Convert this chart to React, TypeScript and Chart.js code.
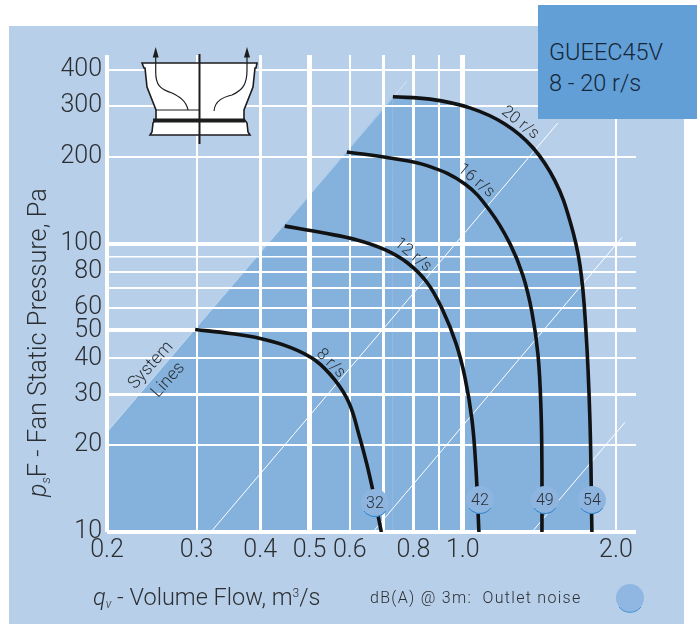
import React, { useEffect, useRef } from "react";
import { Chart, registerables } from "chart.js";

Chart.register(...registerables);

// ---- data (q = m3/s, p = Pa) ----
const curve8q = [0.298, 0.349, 0.4, 0.458, 0.513, 0.561, 0.598, 0.625, 0.648, 0.669, 0.692];
const curve8p = [50.4, 48.8, 46.9, 43.7, 39.4, 33.6, 28, 21.8, 17.2, 13.4, 10];
const curve12q = [0.447, 0.531, 0.62, 0.703, 0.777, 0.851, 0.914, 0.97, 1.01, 1.043, 1.062, 1.076];
const curve12p = [115, 109, 103, 95.3, 86, 73.3, 58.6, 45.1, 34.4, 24.4, 16.4, 10];
const curve16q = [0.592, 0.719, 0.854, 1.01, 1.131, 1.238, 1.313, 1.368, 1.406, 1.425, 1.431, 1.431];
const curve16p = [208, 198, 186, 161, 130, 100, 77.5, 57.7, 41, 26.4, 16.4, 10];
const curve20q = [0.729, 0.862, 1.033, 1.21, 1.374, 1.518, 1.624, 1.7, 1.746, 1.778, 1.794];
const curve20p = [323, 317, 295.6, 260, 215, 165, 120, 83.9, 50, 24.4, 10];

const regionEdgeQ = [0.2, 0.729];
const regionEdgeP = [22.2, 323];
const systemLineAQ = [0.2, 0.777];
const systemLineAP = [22.2, 366];
const systemLineBQ = [0.32, 1.538];
const systemLineBP = [10, 262];
const systemLineCQ = [0.666, 2.055];
const systemLineCP = [10, 105];
const systemLineDQ = [1.368, 2.083];
const systemLineDP = [10, 24];

const noiseQ = [0.672, 1.081, 1.45, 1.794];
const noiseP = [12.6, 12.9, 12.9, 12.9];
const noiseLabels = ["32", "42", "49", "54"];

const speedLabels = ["20 r/s", "16 r/s", "12 r/s", "8 r/s"];
const speedQ = [1.296, 1.062, 0.798, 0.55];
const speedP = [262, 165, 91.2, 38.4];

const systemLabels = ["System", "Lines"];
const systemQ = [0.244, 0.264];
const systemP = [37.8, 33.6];

const xGrid = [0.2, 0.3, 0.4, 0.5, 0.6, 0.7, 0.8, 0.9, 1, 2];
const xGridWidths = [4, 2, 3, 5, 2, 3, 3, 2, 5, 2];
const xLabelled = [0.2, 0.3, 0.4, 0.5, 0.6, 0.8, 1, 2];
const yGrid = [10, 20, 30, 40, 50, 60, 70, 80, 90, 100, 200, 300, 400];
const yGridWidths = [4, 2, 3, 2, 4, 2, 2, 2, 1.5, 4, 2, 2, 2];
const yLabelled = [10, 20, 30, 40, 50, 60, 80, 100, 200, 300, 400];

const FONT = "Roboto, 'Liberation Sans', sans-serif";
const INK = "#2b2f33";

const pts = (q: number[], p: number[]) => q.map((x, i) => ({ x, y: p[i] }));

function runs(ctx: CanvasRenderingContext2D, parts: [string, string, number][], x: number, y: number) {
  let cx = x;
  for (const [t, font, dy] of parts) {
    ctx.font = font;
    ctx.fillText(t, cx, y + dy);
    cx += ctx.measureText(t).width;
  }
}

const overlay = {
  id: "overlay",
  afterDatasetsDraw(chart: any) {
    const { ctx, scales } = chart;
    const X = scales.x;
    const Y = scales.y;
    ctx.save();
    ctx.fillStyle = INK;
    ctx.textAlign = "center";
    ctx.textBaseline = "middle";

    const rotated = (t: string, px: number, py: number, deg: number, font: string) => {
      ctx.save();
      ctx.translate(px, py);
      ctx.rotate((deg * Math.PI) / 180);
      ctx.font = font;
      ctx.fillText(t, 0, 0);
      ctx.restore();
    };
    const speedAngle = [38, 40, 40, 45];
    speedLabels.forEach((t, i) =>
      rotated(t, X.getPixelForValue(speedQ[i]), Y.getPixelForValue(speedP[i]), speedAngle[i], `300 16.5px ${FONT}`)
    );
    systemLabels.forEach((t, i) =>
      rotated(t, X.getPixelForValue(systemQ[i]), Y.getPixelForValue(systemP[i]), -48, `300 17.5px ${FONT}`)
    );

    noiseLabels.forEach((t, i) => {
      const px = X.getPixelForValue(noiseQ[i]);
      const py = Y.getPixelForValue(noiseP[i]);
      ctx.strokeStyle = "#2a82c8";
      ctx.lineWidth = 1;
      ctx.beginPath();
      ctx.arc(px, py, 13.5, Math.PI * 0.2, Math.PI * 0.8);
      ctx.stroke();
      ctx.fillStyle = INK;
      ctx.font = `300 16px ${FONT}`;
      ctx.fillText(t, px, py + 0.5);
    });

    ctx.textAlign = "left";
    ctx.textBaseline = "alphabetic";
    ctx.fillStyle = INK;
    runs(
      ctx,
      [
        ["q", `italic 300 23.5px ${FONT}`, 0],
        ["v", `italic 300 12px ${FONT}`, 3],
        [" - Volume Flow, m", `300 23.5px ${FONT}`, 0],
        ["3", `300 12px ${FONT}`, -8],
        ["/s", `300 23.5px ${FONT}`, 0],
      ],
      93,
      605
    );
    ctx.font = `300 16px ${FONT}`;
    (ctx as any).letterSpacing = "1.3px";
    ctx.fillText("dB(A) @ 3m:  Outlet noise", 370, 603);
    (ctx as any).letterSpacing = "0px";

    ctx.translate(46, 497);
    ctx.rotate(-Math.PI / 2);
    runs(
      ctx,
      [
        ["p", `italic 300 25px ${FONT}`, 0],
        ["s", `italic 300 13px ${FONT}`, 4],
        ["F - Fan Static Pressure, Pa", `300 25.3px ${FONT}`, 0],
      ],
      0,
      0
    );
    ctx.restore();
  },
};

function FanIcon() {
  const ink = "#1d1d1f";
  return (
    <svg width={700} height={624} style={{ position: "absolute", left: 0, top: 0, pointerEvents: "none" }}>
      <path
        d="M142 63 L257 63 L256 68 L255 68 L253 87 L244 110 L244 119 L247 123 L248 132 L250 135 L150 135 L152 132 L153 123 L156 119 L156 110 L147 87 L145 68 L144 68 Z"
        fill="#fff"
        stroke={ink}
        strokeWidth={1.6}
      />
      <path d="M153 120.5 L245 120.5" stroke={ink} strokeWidth={4} />
      <path d="M156 110 L199.5 110" stroke={ink} strokeWidth={1} />
      <path d="M199.5 54 L199.5 144" stroke={ink} strokeWidth={2} />
      <path d="M188 110 C186 100 178 96 172 93 C160 89 155.7 85 155.7 72 L155.7 56" fill="none" stroke={ink} strokeWidth={1.2} />
      <path d="M214 111 C215 100 224 97 232 95 C243 90 247 84 247 70 L247 56" fill="none" stroke={ink} strokeWidth={1.2} />
      <path d="M155.7 47 L152.7 57.5 L158.7 57.5 Z" fill={ink} />
      <path d="M247 47 L244 57.5 L250 57.5 Z" fill={ink} />
      <circle cx={630} cy={598} r={14} fill="#90b7e2" />
      <path d="M619 607 A14 14 0 0 0 641 607" fill="none" stroke="#2a82c8" strokeWidth={0.8} />
    </svg>
  );
}

export default function App() {
  const ref = useRef<HTMLCanvasElement>(null);
  useEffect(() => {
    const line = (q: number[], p: number[], width: number, color: string) => ({
      data: pts(q, p),
      showLine: true,
      borderColor: color,
      borderWidth: width,
      pointRadius: 0,
      fill: false,
    });
    const curve = (q: number[], p: number[], fill: boolean) => ({
      data: pts(q, p),
      showLine: true,
      borderColor: "#111214",
      borderWidth: 3.6,
      pointRadius: 0,
      tension: 0.4,
      fill: fill ? "start" : false,
      backgroundColor: "#85b2dd",
    });
    const chart = new Chart(ref.current as HTMLCanvasElement, {
      type: "scatter",
      data: {
        datasets: [
          { data: pts(noiseQ, noiseP), pointRadius: 14, pointBackgroundColor: "#8db5e0", pointBorderWidth: 0, showLine: false },
          curve(curve8q, curve8p, false),
          curve(curve12q, curve12p, false),
          curve(curve16q, curve16p, false),
          curve(curve20q, curve20p, true),
          line(systemLineAQ, systemLineAP, 1, "rgba(255,255,255,0.4)"),
          line(systemLineBQ, systemLineBP, 1, "#ffffff"),
          line(systemLineCQ, systemLineCP, 1, "#ffffff"),
          line(systemLineDQ, systemLineDP, 1, "#ffffff"),
          { data: pts(regionEdgeQ, regionEdgeP), showLine: true, borderWidth: 0, pointRadius: 0, fill: "start", backgroundColor: "#85b2dd" },
        ] as any,
      },
      options: {
        animation: false,
        responsive: false,
        layout: { padding: { left: 0, top: 55, right: 64, bottom: 0 } },
        plugins: { legend: { display: false }, tooltip: { enabled: false }, filler: { drawTime: "beforeDraw" } as any },
        scales: {
          x: {
            type: "logarithmic",
            min: 0.2,
            max: 2.19,
            border: { display: false },
            grid: {
              color: "#ffffff",
              drawTicks: false,
              lineWidth: (c: any) => xGridWidths[xGrid.indexOf(c.tick?.value)] ?? 0,
            },
            ticks: {
              autoSkip: false,
              maxRotation: 0,
              padding: 4,
              color: INK,
              font: { family: FONT, size: 25, weight: "300" },
              callback: (v: any) => (xLabelled.includes(v) ? Number(v).toFixed(1) : ""),
            },
            afterBuildTicks: (s: any) => {
              s.ticks = xGrid.map((value) => ({ value }));
            },
            afterFit: (s: any) => {
              s.height = 92;
            },
          },
          y: {
            type: "logarithmic",
            min: 10,
            max: 451,
            border: { display: false },
            grid: {
              color: "#ffffff",
              drawTicks: false,
              lineWidth: (c: any) => yGridWidths[yGrid.indexOf(c.tick?.value)] ?? 0,
            },
            ticks: {
              autoSkip: false,
              padding: 5,
              color: INK,
              font: { family: FONT, size: 25, weight: "300" },
              callback: (v: any) => (yLabelled.includes(v) ? String(v) : ""),
            },
            afterBuildTicks: (s: any) => {
              s.ticks = yGrid.map((value) => ({ value }));
            },
            afterFit: (s: any) => {
              s.width = 107;
            },
          },
        },
      } as any,
      plugins: [overlay],
    });
    return () => chart.destroy();
  }, []);

  return (
    <div style={{ position: "absolute", left: 0, top: 0, width: 700, height: 624, overflow: "hidden", background: "#fff" }}>
      <div style={{ position: "absolute", left: 9, top: 26, width: 675, height: 598, background: "#b8cfe9" }} />
      <canvas ref={ref} width={700} height={624} style={{ position: "absolute", left: 0, top: 0, width: 700, height: 624 }} />
      <FanIcon />
      <div
        style={{
          position: "absolute",
          left: 538,
          top: 5,
          width: 159,
          height: 114,
          background: "#629fd6",
          color: "#14283a",
          font: `300 23.5px/31px ${FONT}`,
          paddingLeft: 11,
          paddingTop: 32,
          boxSizing: "border-box",
        }}
      >
        GUEEC45V
        <br />8 - 20 r/s
      </div>
    </div>
  );
}
